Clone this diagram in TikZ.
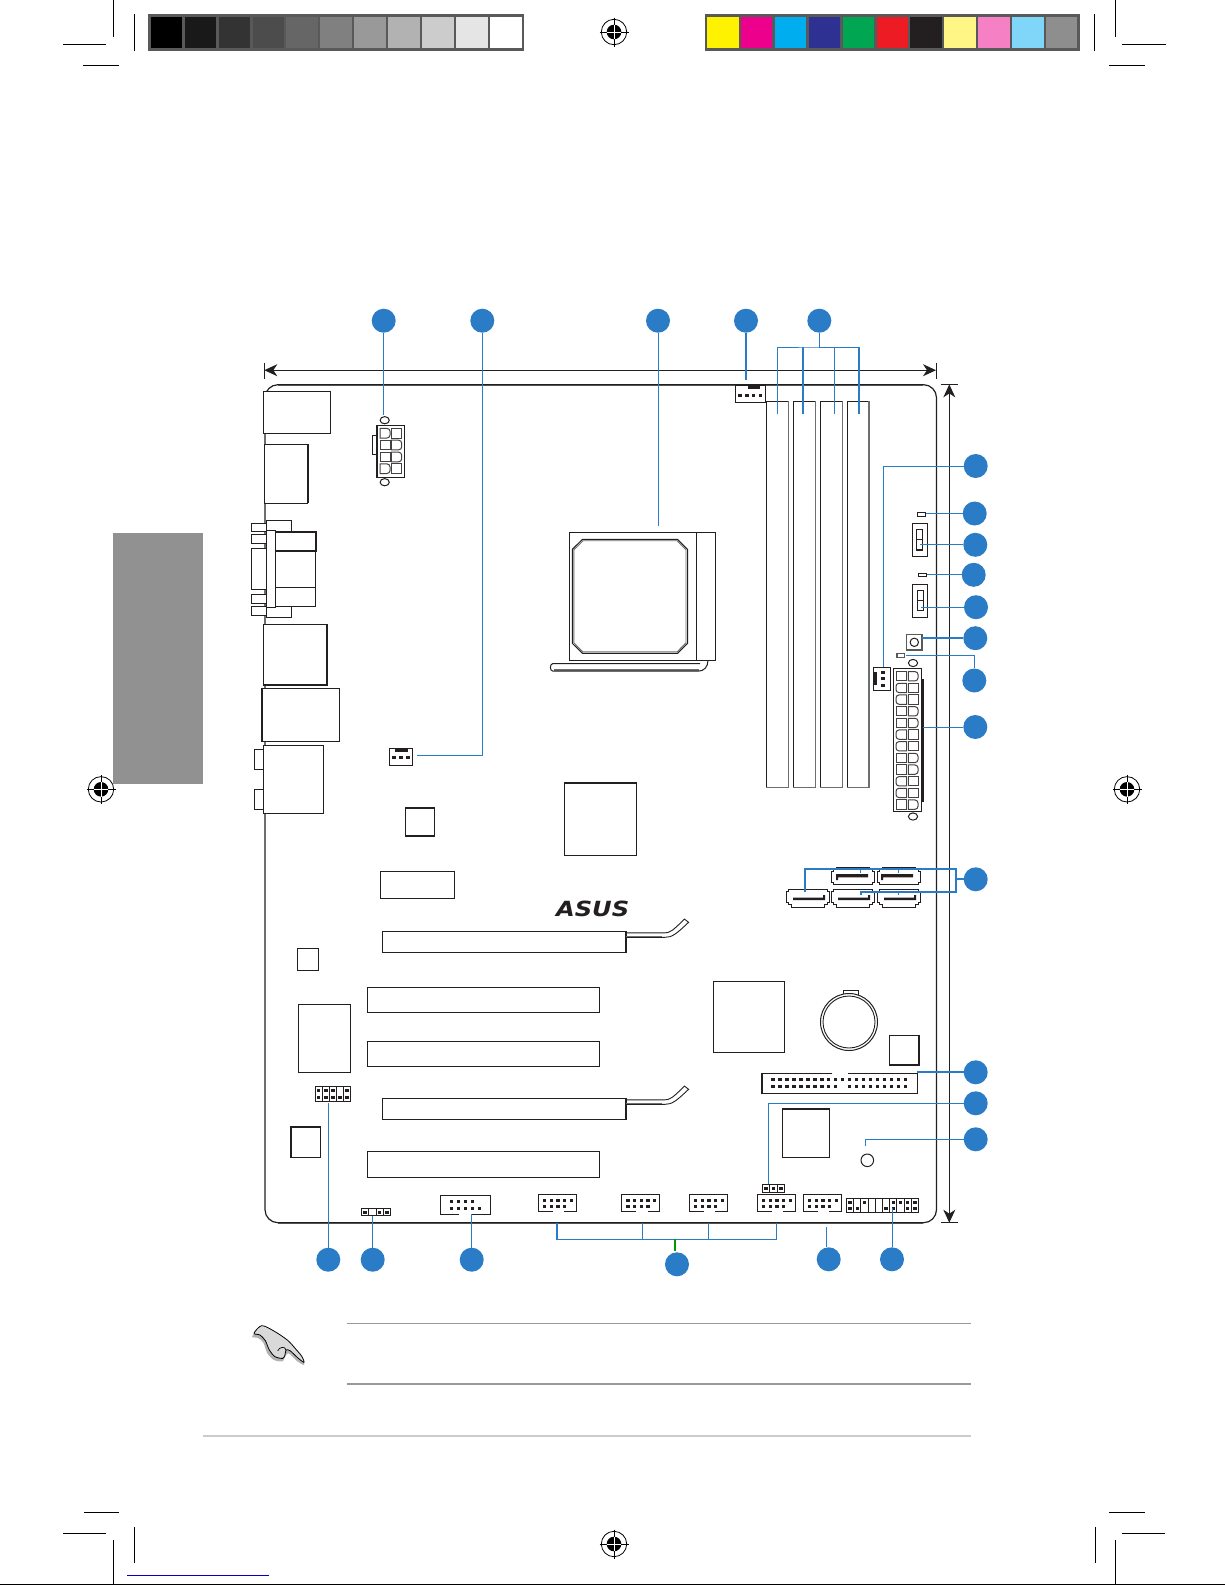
\documentclass[tikz,border=0pt]{standalone}
\usepackage{fontspec}
\usetikzlibrary{arrows.meta}
\definecolor{ink}{HTML}{231F20}
\definecolor{tagblue}{HTML}{2A7CC7}
\definecolor{shadeline}{HTML}{6D6E70}
\definecolor{barline}{HTML}{58595B}
\tikzset{
  partbox/.style={draw=ink,fill=white,line width=1pt},
  heavy/.style={draw=ink,line width=2pt},
  shadeedge/.style={draw=shadeline,line width=1.5pt},
  termbox/.style={draw=ink!85,fill=white,line width=1pt},
  tagdot/.style={circle,fill=tagblue,minimum size=24pt,inner sep=0pt},
  leader/.style={draw=tagblue,line width=1pt},
  leaderheavy/.style={draw=tagblue,line width=1.8pt},
  vhedge/.style={to path={|- (\tikztotarget)}},
  hvedge/.style={to path={-| (\tikztotarget)}},
  dimline/.style={draw=ink,line width=1pt},
  dimarrow/.style={dimline,{Stealth[length=13pt,width=12pt,inset=4pt]}-{Stealth[length=13pt,width=12pt,inset=4pt]}},
  cropline/.style={draw=black,line width=.9pt},
}
% pin of a header, by its centre
\newcommand{\hdrpin}[2]{\fill[ink] (#1-1.65,#2-1.5) rectangle (#1+1.65,#2+1.5);}
% connector terminal, the far side rounded
\newcommand{\termpin}[4]{\draw[termbox] (#1,#2) [rounded corners=3pt] -- (#1+#3,#2) -- (#1+#3,#2+#4) [sharp corners] -- (#1,#2+#4) -- cycle;}
% shrouded 2x5 header
\newcommand{\shroudhdr}[2]{
  \begin{scope}[shift={(#1,#2)}]
    \draw[partbox,fill=none] (14.5,17.5) -- (0,17.5) -- (0,0) -- (38.4,0) -- (38.4,17.5) -- (26,17.5);
    \foreach \k in {0,...,4} {\hdrpin{6.4+\k*6.7}{6.3}}
    \foreach \k in {0,...,3} {\hdrpin{6.4+\k*6.7}{12.2}}
  \end{scope}}
% pcie slot with its retention tail
\newcommand{\tailslot}[1]{
  \begin{scope}[shift={(0,#1)}]
    \draw[partbox] (382.3,0) rectangle (625.7,21.2);
    \draw[heavy] (625.7,0) -- (625.7,21.2);
    \draw[ink,line width=.9pt] (626,1.6) -- (664,1.6) .. controls (670,1.6) and (672,0) .. (684.5,-12.2) -- (688.6,-9) .. controls (676,3) and (672,6) .. (665,6) -- (626,6);
    \draw[shadeline,line width=.8pt] (626,4.8) -- (662,4.8);
  \end{scope}}
% sata socket, wide corners up or down
\newcommand{\satabox}[3]{
  \begin{scope}[shift={(#1,#2)},yscale=#3]
    \draw[partbox] (5,-8.7) -- (38,-8.7) -- (38,-6.5) -- (41,-6.5) -- (41,-4.5) -- (43,-4.5) -- (43,6.5) -- (41,6.5) -- (41,8.7) -- (2,8.7) -- (2,6.5) -- (0,6.5) -- (0,-4.5) -- (2,-4.5) -- (2,-6.5) -- (5,-6.5) -- cycle;
  \end{scope}}
% registration target
\newcommand{\regmark}[1]{
  \begin{scope}[shift={(#1)}]
    \draw[black,line width=.8pt] (0,0) circle (12.7);
    \fill[black] (0,0) circle (7.3);
    \draw[black,line width=.8pt] (-14.5,0) -- (14.5,0) (0,-14.5) -- (0,14.5);
    \draw[white,line width=1pt] (-7.3,0) -- (7.3,0) (0,-7.3) -- (0,7.3);
  \end{scope}}
\begin{document}
\begin{tikzpicture}[x=1pt,y=-1pt]
  \useasboundingbox (0,0) rectangle (1225,1585);
  % printer's marks
  \fill[barline] (148,14) rectangle (524,50.7);
  \foreach \cx/\cw/\cg in {150.6/31.7/0,185/31.3/10,219/31.3/20,253/31.3/30,286/32/40,320/32/50,354/32/60,388/32/70,422/31.5/80,456/31.5/90,490/31.5/100}
    \fill[color=white!\cg!black] (\cx,16.7) rectangle +(\cw,31.3);
  \fill[barline] (704.9,14) rectangle (1079.9,50.7);
  \foreach \cx/\cw/\ch in {706.8/32/FFF200,740.8/31.2/EC008C,775/31/00AEEF,809/31/2E3192,843/31/00A651,877/30.8/ED1C24,910/32/231F20,944/32/FFF685,978/32/F680C4,1012/32/7FD6F9,1046/30.8/8F8E8E} {
    \definecolor{swatch}{HTML}{\ch}
    \fill[swatch] (\cx,16.7) rectangle +(\cw,31.3);}
  \draw[cropline] (113.5,0) -- (113.5,36.7) (134,14) -- (134,50.7) (63,44) -- (106,44) (83,65.3) -- (118.6,65.3);
  \draw[cropline] (1115.4,0) -- (1115.4,36.7) (1094,14) -- (1094,50.7) (1122,44) -- (1165.5,44) (1109,65.3) -- (1145,65.3);
  \draw[cropline] (113.3,1540) -- (113.3,1584) (134.3,1527) -- (134.3,1563) (63,1533.3) -- (106,1533.3) (84,1512.3) -- (119,1512.3);
  \draw[cropline] (1115,1540) -- (1115,1584) (1095,1527) -- (1095,1563) (1122,1533.3) -- (1165,1533.3) (1109,1512.3) -- (1145,1512.3);
  \draw[black,line width=1pt] (0,1584.4) -- (1225,1584.4);
  \regmark{614,32} \regmark{614,1544} \regmark{101,789.3} \regmark{1127,789.3}
  \fill[black!43] (113.3,533) rectangle (203,783.5);
  \draw[blue!80!black,line width=1pt] (127,1575.3) -- (269,1575.3);
  \draw[black!20,line width=2pt] (203,1436) -- (971,1436);
  \draw[black!40,line width=1pt] (347,1323.3) -- (971,1323.3);
  \draw[black!40,line width=2pt] (347,1384) -- (971,1384);
  % hand
  \begin{scope}[shift={(230,1300)},scale=1/3]
    \fill[black!30] plot[smooth cycle] coordinates {(66,110) (90,88) (130,100) (172,128) (198,156) (218,178) (222,195) (202,184) (176,160) (164,172) (158,184) (132,180) (112,160) (100,128) (84,114)};
    \draw[black,fill=black!15,line width=.8pt] plot[smooth cycle] coordinates {(72,100) (95,77) (130,92) (172,120) (198,148) (216,170) (222,187) (205,175) (180,152) (168,150) (165,165) (158,175) (135,170) (118,150) (106,122) (90,105)};
    \draw[black,line width=.7pt] (143,152) .. controls (150,140) and (165,138) .. (168,150);
  \end{scope}
  % board
  \draw[shadeline,line width=1.2pt] (278,385.5) -- (923,385.5) (278,1223.6) -- (923,1223.6);
  \draw[ink,line width=1.2pt,rounded corners=13pt] (265,1222.7) -- (265,384.7) -- (936.5,384.7) -- (936.5,1222.7) -- cycle;
  \draw[shadeline,line width=2pt] (265,440) -- (265,1208);
  % rear panel
  \draw[partbox] (263.3,391.3) rectangle (330.7,433.3);
  \draw[partbox] (264.3,444.3) rectangle (307.7,503.2);
  \draw[heavy] (307.7,444.3) -- (307.7,503.2);
  \draw[partbox] (266.3,520.4) rectangle (291.3,531.4);
  \draw[partbox] (266.3,606.5) rectangle (291.3,617);
  \draw[heavy,line width=1.4pt] (291.3,520.4) -- (291.3,531.4) (291.3,606.5) -- (291.3,617);
  \foreach \ya/\yb in {523/531.4,534.2/543.8,548.3/589.6,594.8/603.7,606/615}
    \draw[partbox] (251.3,\ya) rectangle (266.3,\yb);
  \draw[partbox] (275,532) rectangle (315.7,606.5);
  \draw[partbox] (266.3,530) rectangle (275,607.2);
  \draw[heavy] (275,532) -- (315.7,532) -- (315.7,550.7) -- (275,550.7);
  \draw[partbox,fill=none] (275,587.2) -- (315.7,587.2);
  \draw[partbox] (263.3,624.4) rectangle (326.7,685);
  \draw[heavy] (326.7,624.4) -- (326.7,685) -- (263.3,685);
  \draw[partbox] (262.3,688.4) rectangle (339.7,741.5);
  \draw[heavy] (262.3,688.4) -- (262.3,741.5);
  \draw[partbox] (254.3,749.4) rectangle (263.3,769);
  \draw[partbox] (254.3,789.3) rectangle (263.3,809.3);
  \draw[partbox] (263.3,745.2) rectangle (323.3,813.4);
  % eight pin power
  \draw[partbox] (372.3,435.3) rectangle (376.7,454.3);
  \draw[partbox] (384.7,420.2) ellipse (4.6 and 3.6);
  \draw[partbox] (384.7,482.2) ellipse (4.6 and 3.6);
  \draw[partbox] (376.7,425.3) rectangle (404.7,477.3);
  \draw[heavy] (376.7,425.3) -- (376.7,477.3);
  \foreach \py in {428.4,463.9} {\termpin{380}{\py}{10}{9.6} \draw[termbox] (391.3,\py) rectangle +(10.4,9.6);}
  \foreach \py in {440.2,452.2} {\termpin{391.3}{\py}{10.4}{9.6} \draw[termbox] (380,\py) rectangle +(10,9.6);}
  % fan headers
  \draw[partbox] (389.3,748.3) rectangle (412.7,765.2);
  \fill[ink] (395.3,748.7) rectangle (407.7,751.5);
  \foreach \px in {394,401,408} {\hdrpin{\px}{757.5}}
  \draw[partbox] (735.3,385) rectangle (765,402.6);
  \fill[ink] (748,385.4) rectangle (760,388.5);
  \foreach \px in {740,747,753.7,760.3} {\hdrpin{\px}{395}}
  \draw[partbox] (873.3,667.4) rectangle (890.7,690.2);
  \fill[ink] (873.7,671.9) rectangle (876.7,685);
  \foreach \py in {672.2,678.4,685} {\hdrpin{883}{\py}}
  % chips
  \draw[partbox] (405.3,808.3) rectangle (434.7,836.2);
  \draw[heavy] (405.3,808.3) -- (434.7,808.3) (405.3,836.2) -- (434.7,836.2);
  \draw[partbox] (564.3,782.8) rectangle (636,855.3);
  \draw[heavy,line width=1.5pt] (564.3,782.8) -- (636,782.8);
  \draw[partbox] (380,871.5) rectangle (454,898);
  \draw[heavy,line width=1.5pt] (380,871.5) -- (454,871.5);
  \draw[partbox] (297,948) rectangle (318.5,970);
  \draw[partbox] (298,1004) rectangle (350,1072);
  \draw[partbox] (290.7,1127.3) rectangle (320.7,1157.7);
  \draw[heavy] (290.7,1157.7) -- (290.7,1127.3) -- (320.7,1127.3);
  \draw[partbox] (713.3,981) rectangle (784.7,1052.3);
  \draw[partbox] (889.3,1035.5) rectangle (919.3,1064.7);
  \draw[heavy] (919.3,1035.5) -- (919.3,1064.7) -- (889.3,1064.7);
  \draw[partbox] (782.3,1109.3) rectangle (829.7,1157.3);
  \draw[heavy] (782.3,1109.3) -- (829.7,1109.3);
  % socket
  \draw[partbox] (569.3,532.4) rectangle (715.7,660.2);
  \draw[ink,line width=1pt] (696.6,532.4) -- (696.6,660.2);
  \draw[shadeline,line width=.9pt] (583,540.7) -- (677,540.7) -- (686,549.8) -- (686,642.8) -- (677,651.9) -- (583,651.9) -- (573.8,642.8) -- (573.8,549.8) -- cycle;
  \draw[ink,line width=1pt] (582.5,539.3) -- (677.5,539.3) -- (687.5,549.3) -- (687.5,643.3) -- (677.5,653.3) -- (582.5,653.3) -- (572.3,643.3) -- (572.3,549.3) -- cycle;
  \draw[shadeline,line width=2pt] (554,670.4) -- (699,670.4);
  \draw[ink,line width=1pt] (708,660.2) .. controls (708,667) and (704,671.2) .. (698,671.2) -- (553,671.2) .. controls (549.5,671.2) and (549.5,663.5) .. (553,663.5) -- (700,663.5);
  % memory
  \foreach \xa/\xb in {766.3/788.3,793/815.3,820.3/842.3,847/869} {
    \draw[partbox] (\xa,401.2) rectangle (\xb,787.6);
    \draw[shadeedge] (\xb,401.2) -- (\xb,787.6) -- (\xa,787.6);}
  % leds, switches, button
  \draw[partbox] (917.3,512.5) rectangle (925.7,516.6);
  \draw[heavy,line width=1.5pt] (917.6,512.5) -- (917.6,516.6);
  \draw[partbox] (912.3,523.5) rectangle (927.7,556.2);
  \draw[partbox] (916.7,529.3) rectangle (922.3,550.3);
  \draw[ink,line width=1pt] (916.7,539.7) -- (922.3,539.7);
  \draw[heavy,line width=1.5pt] (916.7,550) -- (922.3,550) -- (922.3,540);
  \draw[heavy,line width=1.5pt] (927.7,523.5) -- (927.7,556.2);
  \draw[partbox] (918.3,573) rectangle (926.7,576.5);
  \draw[partbox] (912.3,584.4) rectangle (927.7,617.1);
  \draw[heavy,line width=1.5pt] (912.3,584.4) -- (912.3,617.1);
  \draw[partbox] (917.3,590.3) rectangle (923.7,610.6);
  \draw[ink,line width=1pt] (917.3,600.3) -- (923.7,600.3);
  \draw[partbox,draw=barline,line width=1.4pt] (906.7,634.4) rectangle (922,649.9);
  \draw[ink,line width=1pt] (914.3,642.3) circle (4.2);
  \draw[partbox,draw=barline,line width=1.2pt] (897,653.3) rectangle (904.7,657.1);
  % atx power
  \draw[partbox] (913,663) ellipse (4.6 and 3.6);
  \draw[partbox] (913,816.5) ellipse (4.6 and 3.6);
  \draw[partbox] (893.7,668.5) rectangle (921,811.7);
  \fill[ink] (921,679.1) rectangle (923.7,801.7);
  \foreach \r in {1,2,5,6,9,10} {\termpin{906.7}{671.6+\r*11.67}{-10.7}{9.3} \draw[termbox] (908.3,671.6+\r*11.67) rectangle +(9.7,9.3);}
  \foreach \r in {0,3,4,7,8,11} {\termpin{908.3}{671.6+\r*11.67}{9.7}{9.3} \draw[termbox] (896,671.6+\r*11.67) rectangle +(10.7,9.3);}
  % sata
  \satabox{831.3}{876}{1} \satabox{877}{876}{1}
  \satabox{786.3}{898.3}{-1} \satabox{831.3}{898.3}{-1} \satabox{877}{898.3}{-1}
  \fill[ink] (836,874) rectangle (868,877.3) (836,874) rectangle (838,880);
  \fill[ink] (881,874) rectangle (913,877.3) (881,874) rectangle (883,880);
  \fill[ink] (793,897.7) rectangle (825,900) (823,895) rectangle (825,900);
  \fill[ink] (838,897.7) rectangle (870,900) (868,895) rectangle (870,900);
  \fill[ink] (884,897.7) rectangle (916,900) (914,895) rectangle (916,900);
  % logo
  \node[inner sep=0pt,xscale=1.1,yscale=.95,text=ink] (logo) at (592.7,908.5) {\fontspec{DejaVu Sans}\fontsize{22}{22}\selectfont\bfseries\itshape ASUS};
  % slots
  \tailslot{931.3}
  \tailslot{1098.3}
  \draw[partbox] (367,987) rectangle (599.7,1012);
  \draw[partbox] (367,1041.5) rectangle (599.7,1066.5);
  \draw[partbox] (367.3,1151.3) rectangle (599.7,1177.3);
  \foreach \ys in {987,1041.5,1151.3} \draw[heavy,line width=1.5pt] (599.7,\ys) -- (599.7,\ys+25.5);
  % battery
  \draw[partbox] (843,990) rectangle (858.5,997);
  \draw[partbox] (849,1022) circle (28.5);
  \draw[ink,line width=.9pt] (849,1022) circle (26);
  % ide
  \draw[partbox,fill=none] (832,1073) -- (762.3,1073) -- (762.3,1093.7) -- (917.7,1093.7) -- (917.7,1073) -- (848,1073);
  \draw[heavy] (762.3,1073) -- (762.3,1093.7);
  \foreach \k in {0,...,19} {\hdrpin{773+\k*6.98}{1079.3}}
  \foreach \k in {0,...,19} {\ifnum\k=10\else\hdrpin{773+\k*6.98}{1086.3}\fi}
  % bottom edge headers
  \draw[partbox] (762.3,1184.7) rectangle (784.7,1192.7);
  \draw[ink,line width=1pt] (769.7,1184.7) -- (769.7,1192.7) (777.2,1184.7) -- (777.2,1192.7);
  \draw[heavy,line width=1.5pt] (762.3,1184.7) -- (784.7,1184.7);
  \foreach \px in {765.9,773.4,781} {\hdrpin{\px}{1188.6}}
  \draw[partbox,fill=none] (459,1214.7) -- (440.3,1214.7) -- (440.3,1195.3) -- (490.7,1195.3) -- (490.7,1214.7) -- (471.7,1214.7);
  \foreach \k in {0,...,3} {\hdrpin{451.7+\k*7}{1201.3}}
  \foreach \k in {0,...,4} {\hdrpin{451.7+\k*7}{1208.3}}
  \shroudhdr{538.3}{1194.3}
  \shroudhdr{621.5}{1194.3}
  \shroudhdr{689.3}{1194.3}
  \shroudhdr{757.3}{1194.3}
  \shroudhdr{803.3}{1194.3}
  \draw[partbox] (315.3,1086.3) rectangle (350.7,1101.7);
  \foreach \k in {1,...,4} \draw[ink,line width=1pt] (315.3+\k*7.08,1086.3) -- (315.3+\k*7.08,1101.7);
  \foreach \k/\py in {0/1090.3,0/1097.3,1/1090.3,1/1097.3,2/1090.3,2/1097.3,3/1097.3,4/1090.3,4/1097.3} {\hdrpin{318.8+\k*7.08}{\py}}
  \draw[partbox] (361.3,1208.3) rectangle (390.7,1215.7);
  \foreach \k in {1,2,3} \draw[ink,line width=1pt] (361.3+\k*7.35,1208.3) -- (361.3+\k*7.35,1215.7);
  \foreach \k in {0,2,3} {\hdrpin{365+\k*7.35}{1212}}
  \draw[partbox] (846.3,1198.3) rectangle (918.7,1212.7);
  \foreach \k in {1,...,9} \draw[ink,line width=1pt] (846.3+\k*7.24,1198.3) -- (846.3+\k*7.24,1212.7);
  \foreach \k/\py in {0/1202.3,0/1208.3,1/1208.3,2/1202.3,5/1208.3,6/1202.3,6/1208.3,7/1202.3,8/1202.3,8/1208.3,9/1202.3,9/1208.3} {\hdrpin{849.9+\k*7.24}{\py}}
  \draw[ink,line width=1pt] (867.3,1160.3) circle (6.3);
  % dimension arrows
  \coordinate (dimwest) at (264.3,370.2);
  \coordinate (dimeast) at (936,370.2);
  \coordinate (dimnorth) at (949.3,384.4);
  \coordinate (dimsouth) at (949.3,1222.7);
  \draw[dimarrow] (dimwest) -- (dimeast);
  \draw[dimarrow] (dimnorth) -- (dimsouth);
  \draw[dimline] (dimwest)+(0,-7.5) -- +(0,8.5);
  \draw[dimline] (dimeast)+(0,-7.5) -- +(0,8.5);
  \draw[dimline] (dimnorth)+(-8.5,0) -- +(9,0);
  \draw[dimline] (dimsouth)+(-8.5,0) -- +(9,0);
  % tags
  \foreach \tagname/\tx/\ty in {toppwr/383.7/320.7,topfan/482.3/320.7,topcpu/658/320.7,topcfan/746/320.7,topram/819.3/320.7,
      sidefan/975.7/466,sideledA/974.7/513.5,sidesw/975.3/544.8,sideledB/973.7/574.8,sideswB/976/607.2,sidebtn/975.3/638.2,sideledC/974.3/680.5,sideatx/975.3/727,sidesata/975.7/879.3,
      sideide/975.7/1072.3,sidejmp/975.7/1103.3,sidepad/975.7/1139.3,
      lowusb/328.3/1259.7,lowjmp/372.7/1259.7,lowcom/471.7/1259.7,lowmid/677/1264.3,lowaud/828.7/1259.3,lowpanel/892/1259.3}
    \node[tagdot] (\tagname) at (\tx,\ty) {};
  % leader ends
  \coordinate (pwrend) at (383.7,414.7);
  \coordinate (fanend) at (416.7,755);
  \coordinate (cpuend) at (658,526);
  \coordinate (cfanend) at (746,380);
  \coordinate (ramA) at (777.7,413.6);
  \coordinate (ramB) at (803,413.6);
  \coordinate (ramC) at (834.7,413.6);
  \coordinate (ramD) at (859,413.6);
  \coordinate (rambus) at (819.3,347);
  \coordinate (sfanend) at (883.3,667);
  \coordinate (ledAend) at (925.7,513.5);
  \coordinate (swAend) at (920,544.8);
  \coordinate (ledBend) at (926.7,574.8);
  \coordinate (swBend) at (920.7,607.2);
  \coordinate (btnend) at (921.7,638.2);
  \coordinate (ledCend) at (906,655.4);
  \coordinate (atxend) at (923.3,727);
  \coordinate (ideend) at (917.3,1072.3);
  \coordinate (jmpend) at (768.3,1184);
  \coordinate (padend) at (865.3,1145.7);
  \coordinate (usbend) at (328.3,1102.7);
  \coordinate (ljmpend) at (372.7,1215.7);
  \coordinate (comend) at (471.7,1214);
  \coordinate (audend) at (826.3,1227);
  \coordinate (panelend) at (892,1208.3);
  \coordinate (sataW) at (804.7,892.3);
  \coordinate (sataE) at (956,879.3);
  \coordinate (sataLow) at (860.7,895);
  \coordinate (stubend) at (675,1250.7);
  \path[leader]
    (toppwr) edge (pwrend)
    (topfan) edge[vhedge] (fanend)
    (topcpu) edge (cpuend)
    (topram) edge (rambus)
    (sidefan) edge[hvedge] (sfanend)
    (sideledA) edge (ledAend)
    (sidesw) edge (swAend)
    (sideledB) edge (ledBend)
    (sideswB) edge (swBend)
    (sideledC) edge[vhedge] (ledCend)
    (sideatx) edge (atxend)
    (sidejmp) edge[hvedge] (jmpend)
    (sidepad) edge[hvedge] (padend)
    (lowusb) edge (usbend)
    (lowjmp) edge (ljmpend)
    (lowcom) edge (comend)
    (audend) edge (audend |- lowaud.north)
    (lowpanel) edge (panelend);
  \path[leaderheavy]
    (topcfan) edge (cfanend)
    (sidebtn) edge (btnend)
    (sideide) edge (ideend);
  % memory bracket
  \draw[leader] (ramA) |- (rambus) -| (ramC);
  \draw[leader] (rambus) -| (ramD);
  \draw[leaderheavy] (ramB) -- (ramB |- rambus);
  \draw[leaderheavy] (ramD) -- (ramD |- rambus);
  % sata bracket
  \draw[leaderheavy] (sidesata) -- (sataE);
  \draw[leaderheavy] (sataW) |- (956,869.3) -- (956,891.7) -| (sataLow);
  \draw[leader] (860.3,869.3) -- (860.3,873) (898.3,869.3) -- (898.3,873) (898.3,891.7) -- (898.3,895);
  % header bracket
  \draw[leader] (557,1239.3) -- (776.3,1239.3) -- (776.3,1222.7) (642.3,1239.3) -- (642.3,1222.7) (708.3,1239.3) -- (708.3,1222.7);
  \draw[leaderheavy] (557,1222.7) -- (557,1240);
  \draw[green!60!black,line width=1.8pt] (675,1239.3) -- (stubend);
\end{tikzpicture}
\end{document}
